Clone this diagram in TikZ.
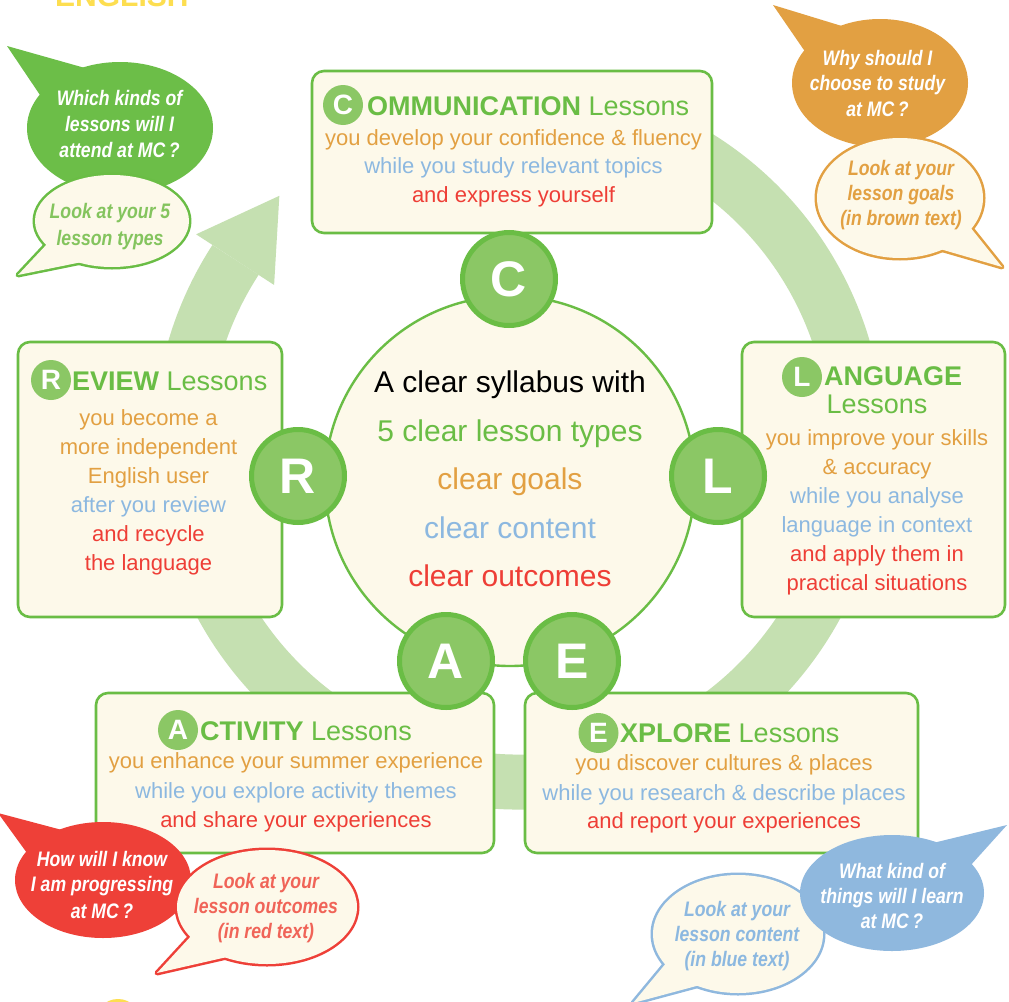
\documentclass[tikz,border=0pt]{standalone}
\usepackage{fontspec}
\setmainfont{Liberation Sans}
\newfontfamily\bubblefont[FakeStretch=0.84]{Liberation Sans}
\usetikzlibrary{calc}
\definecolor{gdark}{RGB}{106,189,69}
\definecolor{glight}{RGB}{139,199,101}
\definecolor{ringcol}{RGB}{197,224,177}
\definecolor{cream}{RGB}{253,249,234}
\definecolor{tor}{RGB}{226,160,66}
\definecolor{tbl}{RGB}{140,184,224}
\definecolor{tred}{RGB}{238,62,54}
\definecolor{bor}{RGB}{226,160,66}
\definecolor{bbl}{RGB}{143,184,222}
\definecolor{bred}{RGB}{238,64,56}
\definecolor{bgr}{RGB}{108,190,72}
\definecolor{ylw}{RGB}{253,222,80}
\definecolor{salmon}{RGB}{240,100,88}
\definecolor{gtext}{RGB}{132,196,94}
\tikzset{
  lessonbox/.style={draw=gdark, line width=2.6, fill=cream, rounded corners=12},
  bigletter/.style={circle, draw=gdark, line width=5, fill=glight, text=white,
    font=\fontsize{50}{50}\selectfont\bfseries, minimum size=93, inner sep=0},
  badge/.style={circle, fill=glight, text=white,
    font=\fontsize{28}{28}\selectfont\bfseries, minimum size=40, inner sep=0},
  titletxt/.style={font=\fontsize{27}{27}\selectfont, text=gdark, inner sep=0, anchor=base west},
  bodytxt/.style={font=\fontsize{22}{22}\selectfont, inner sep=0, anchor=base},
  centertxt/.style={font=\fontsize{30}{30}\selectfont, inner sep=0, anchor=base},
  btxt/.style={font=\bubblefont\fontsize{21}{21}\selectfont\bfseries\itshape, inner sep=0, anchor=base},
  bubbleline/.style={line width=5, line join=round},
}
\begin{document}
\begin{tikzpicture}[x=1pt,y=-1pt]
\useasboundingbox (0,0) rectangle (1009,1001);
\fill[white] (0,0) rectangle (1009,1001);

% partial title at top and yellow dot at bottom
\node[anchor=base west, inner sep=0, text=ylw, font=\fontsize{30}{30}\selectfont\bfseries] (eng) at (55,6) {ENGLISH};
\fill[ylw] (118,1022) circle[radius=23];

% circular arrow
\coordinate (rc) at (519,444);
\draw[ringcol, line width=55] ($(rc)+(-60:338)$) arc[start angle=-60, end angle=213, radius=338];
\fill[ringcol] ($(rc)+(213:292)$) -- ($(rc)+(226:345)$) -- ($(rc)+(213:385)$) -- cycle;

% lesson boxes
\draw[lessonbox] (312,71) rectangle (712,233);
\draw[lessonbox] (18,342) rectangle (282,617);
\draw[lessonbox] (742,342) rectangle (1005,617);
\draw[lessonbox] (96,693) rectangle (494,853);
\draw[lessonbox] (525,693) rectangle (918,853);

% centre circle
\draw[gdark, line width=2.4, fill=cream] (510,481) circle[radius=185];
\node[centertxt, text=black] (s1) at (510,392) {A clear syllabus with};
\node[centertxt, text=gdark] (s2) at (510,441) {5 clear lesson types};
\node[centertxt, text=tor] (s3) at (510,489) {clear goals};
\node[centertxt, text=tbl] (s4) at (510,538) {clear content};
\node[centertxt, text=tred] (s5) at (510,586) {clear outcomes};

% big letters
\node[bigletter] (lc) at (509,279) {C};
\node[bigletter] (lr) at (298,476) {R};
\node[bigletter] (ll) at (718,476) {L};
\node[bigletter] (la) at (446,661) {A};
\node[bigletter] (le) at (572,661) {E};

% COMMUNICATION box
\node[badge] (bc) at (343,105) {C};
\node[titletxt] (tc) at (367,115) {\textbf{OMMUNICATION} Lessons};
\node[bodytxt, text=tor] (c1) at (513.5,145) {you develop your confidence \& fluency};
\node[bodytxt, text=tbl] (c2) at (513.5,173.5) {while you study relevant topics};
\node[bodytxt, text=tred] (c3) at (513.5,202) {and express yourself};

% REVIEW box
\node[badge] (br) at (51,380) {R};
\node[titletxt] (tr) at (72,390) {\textbf{EVIEW} Lessons};
\node[bodytxt, text=tor] (r1) at (148.5,425) {you become a};
\node[bodytxt, text=tor] (r2) at (148.5,454) {more independent};
\node[bodytxt, text=tor] (r3) at (148.5,483) {English user};
\node[bodytxt, text=tbl] (r4) at (148.5,512.5) {after you review};
\node[bodytxt, text=tred] (r5) at (148.5,541.5) {and recycle};
\node[bodytxt, text=tred] (r6) at (148.5,570.5) {the language};

% LANGUAGE box
\node[badge] (bl) at (802,377) {L};
\node[titletxt] (tl) at (824,385) {\textbf{ANGUAGE}};
\node[titletxt, anchor=base] (tl2) at (877,413) {Lessons};
\node[bodytxt, text=tor] (l1) at (877,445) {you improve your skills};
\node[bodytxt, text=tor] (l2) at (877,474) {\& accuracy};
\node[bodytxt, text=tbl] (l3) at (877,503) {while you analyse};
\node[bodytxt, text=tbl] (l4) at (877,532) {language in context};
\node[bodytxt, text=tred] (l5) at (877,561) {and apply them in};
\node[bodytxt, text=tred] (l6) at (877,590) {practical situations};

% ACTIVITY box
\node[badge] (ba) at (178,730) {A};
\node[titletxt] (ta) at (200,740) {\textbf{CTIVITY} Lessons};
\node[bodytxt, text=tor] (a1) at (296,768) {you enhance your summer experience};
\node[bodytxt, text=tbl] (a2) at (296,798) {while you explore activity themes};
\node[bodytxt, text=tred] (a3) at (296,827) {and share your experiences};

% EXPLORE box
\node[badge] (be) at (598.5,733) {E};
\node[titletxt] (te) at (620,742) {\textbf{XPLORE} Lessons};
\node[bodytxt, text=tor] (e1) at (724,770) {you discover cultures \& places};
\node[bodytxt, text=tbl] (e2) at (724,800) {while you research \& describe places};
\node[bodytxt, text=tred] (e3) at (724,828.5) {and report your experiences};

% green bubbles (top left)
\fill[bgr] (120,128) ellipse[x radius=93, y radius=66];
\fill[bgr] (40,95) -- (7,46) -- (85,68) -- cycle;
\node[btxt, text=white] (g1) at (119.5,105) {Which kinds of};
\node[btxt, text=white] (g2) at (119.5,131) {lessons will I};
\node[btxt, text=white] (g3) at (119.5,157) {attend at MC\,?};
\draw[gdark, bubbleline] (112,221) ellipse[x radius=77, y radius=46];
\draw[gdark, bubbleline] (48,243) -- (18,275) -- (82,262) -- cycle;
\fill[cream] (112,221) ellipse[x radius=77, y radius=46];
\fill[cream, line join=round] (48,243) -- (18,275) -- (82,262) -- cycle;
\node[btxt, text=gtext] (g4) at (110,218) {Look at your 5};
\node[btxt, text=gtext] (g5) at (110,245) {lesson types};

% orange bubbles (top right)
\fill[bor] (880,83) ellipse[x radius=88, y radius=64];
\fill[bor] (806,53) -- (773,5) -- (845,27) -- cycle;
\node[btxt, text=white] (o1) at (877.5,65) {Why should I};
\node[btxt, text=white] (o2) at (877.5,90) {choose to study};
\node[btxt, text=white] (o3) at (877.5,116.5) {at MC\,?};
\draw[bor, bubbleline] (900,198) ellipse[x radius=83, y radius=60];
\draw[bor, bubbleline] (970,227) -- (1002,267) -- (940,249) -- cycle;
\fill[cream] (900,198) ellipse[x radius=83, y radius=60];
\fill[cream] (970,227) -- (1002,267) -- (940,249) -- cycle;
\node[btxt, text=tor] (o4) at (901,175) {Look at your};
\node[btxt, text=tor] (o5) at (901,200) {lesson goals};
\node[btxt, text=tor] (o6) at (901,225) {(in brown text)};

% red bubbles (bottom left)
\fill[bred] (103,880) ellipse[x radius=88, y radius=58];
\fill[bred] (27,853) -- (-2,813) -- (62,830) -- cycle;
\node[btxt, text=white] (q1) at (102,866.5) {How will I know};
\node[btxt, text=white] (q2) at (102,891.5) {I am progressing};
\node[btxt, text=white] (q3) at (102,918) {at MC\,?};
\draw[bred, bubbleline] (267,907) ellipse[x radius=90, y radius=57];
\draw[bred, bubbleline] (192,935) -- (157,973) -- (227,957) -- cycle;
\fill[cream] (267,907) ellipse[x radius=90, y radius=57];
\fill[cream] (192,935) -- (157,973) -- (227,957) -- cycle;
\node[btxt, text=salmon] (q4) at (266,888) {Look at your};
\node[btxt, text=salmon] (q5) at (266,913) {lesson outcomes};
\node[btxt, text=salmon] (q6) at (266,938) {(in red text)};

% blue bubbles (bottom right)
\draw[bbl, bubbleline] (738,934) ellipse[x radius=85, y radius=59];
\draw[bbl, bubbleline] (667,962) -- (633,1003) -- (700,985) -- cycle;
\fill[cream] (738,934) ellipse[x radius=85, y radius=59];
\fill[cream] (667,962) -- (633,1003) -- (700,985) -- cycle;
\node[btxt, text=tbl] (w4) at (737,916.5) {Look at your};
\node[btxt, text=tbl] (w5) at (737,941.5) {lesson content};
\node[btxt, text=tbl] (w6) at (737,966.5) {(in blue text)};
\fill[bbl] (892,893) ellipse[x radius=92, y radius=58];
\fill[bbl] (933,843) -- (1007,825) -- (970,866) -- cycle;
\node[btxt, text=white] (w1) at (892,878) {What kind of};
\node[btxt, text=white] (w2) at (892,903) {things will I learn};
\node[btxt, text=white] (w3) at (892,928) {at MC\,?};
\end{tikzpicture}
\end{document}
